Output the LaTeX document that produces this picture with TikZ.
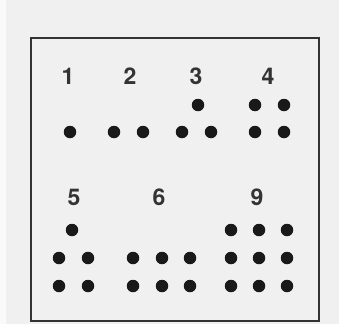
\documentclass[tikz,border=0pt]{standalone}
\usepackage{fontspec}
\setmainfont{TeX Gyre Heros}

\begin{document}
\begin{tikzpicture}[
    x=1pt, y=-1pt,
    dot/.style={circle, fill=black!90, inner sep=0pt, minimum size=12.5pt},
    num/.style={font=\fontsize{23}{27}\selectfont\bfseries, text=black!80, inner sep=0pt},
    frame/.style={draw=black!80, line width=1.6pt}
]

% Background
\fill[black!6] (0,0) rectangle (339,324);
\fill[black!2] (0,0) rectangle (6,324);
\useasboundingbox (0,0) rectangle (339,324);

% Frame
\draw[frame] (31,38) rectangle (319,321);

% Group 1
\node[num] (n1) at (68,76) {1};
\node[dot] (d1a) at (70,132) {};

% Group 2
\node[num] (n2) at (130,76) {2};
\node[dot] (d2a) at (114,132) {};
\node[dot] (d2b) at (143,132) {};

% Group 3
\node[num] (n3) at (196,76) {3};
\node[dot] (d3a) at (198,105) {};
\node[dot] (d3b) at (182,132) {};
\node[dot] (d3c) at (211,132) {};

% Group 4
\node[num] (n4) at (268,76) {4};
\node[dot] (d4a) at (255,105) {};
\node[dot] (d4b) at (284,105) {};
\node[dot] (d4c) at (255,132) {};
\node[dot] (d4d) at (284,132) {};

% Group 5
\node[num] (n5) at (74,197) {5};
\node[dot] (d5a) at (72,230) {};
\node[dot] (d5b) at (59,258) {};
\node[dot] (d5c) at (88,258) {};
\node[dot] (d5d) at (59,286) {};
\node[dot] (d5e) at (88,286) {};

% Group 6
\node[num] (n6) at (159,197) {6};
\foreach \x/\i in {133/a, 162/b, 190/c} {
    \node[dot] (d6\i1) at (\x,258) {};
    \node[dot] (d6\i2) at (\x,286) {};
}

% Group 9
\node[num] (n9) at (257,197) {9};
\foreach \x/\i in {231/a, 259/b, 287/c} {
    \node[dot] (d9\i1) at (\x,230) {};
    \node[dot] (d9\i2) at (\x,258) {};
    \node[dot] (d9\i3) at (\x,286) {};
}

\end{tikzpicture}
\end{document}
